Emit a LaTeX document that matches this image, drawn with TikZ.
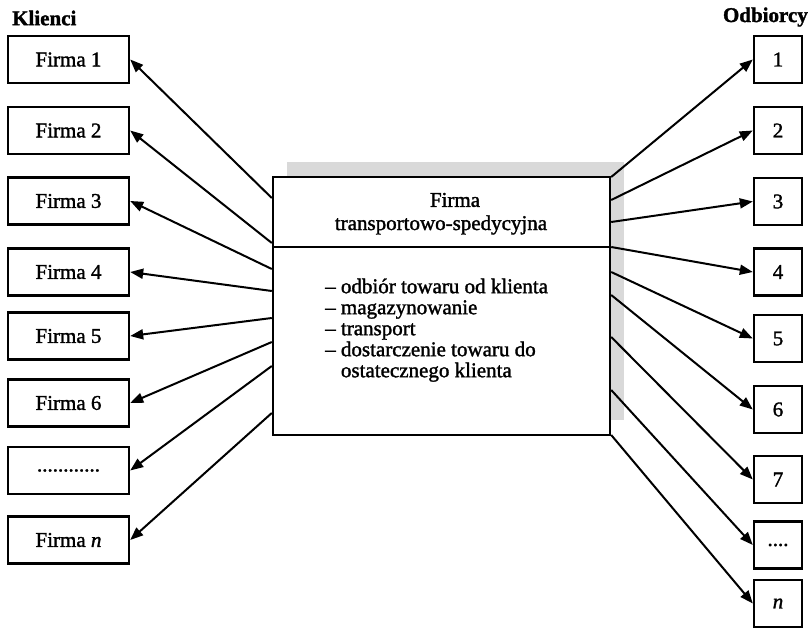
\documentclass[tikz,border=0pt]{standalone}
\usepackage{fontspec}
\setmainfont{Liberation Serif}
\newfontfamily\skan[FakeBold=1.5]{Liberation Serif}
\usetikzlibrary{arrows.meta,shadows}

\begin{document}
\begin{tikzpicture}
[
x=1pt,y=-1pt,
every node/.style={font=\skan\fontsize{21}{21}\selectfont},
naglowek/.style={font=\skan\fontsize{21}{21}\selectfont\bfseries,inner sep=0pt},
klient/.style={draw,line width=2.4pt,minimum width=121pt,minimum height=47pt,inner sep=0pt},
odbiorca/.style={draw,line width=2.4pt,minimum width=48pt,minimum height=47pt,inner sep=0pt},
przeplyw/.style={line width=2pt,-{Triangle[length=13pt,width=10pt]}},
]
\useasboundingbox (0,0) rectangle (811,628);

%Place the nodes
\node[naglowek,anchor=west] (klienci) at (12,18) {Klienci};
\node[naglowek,anchor=east] (odbiorcy) at (808,17) {Odbiorcy};

\node[draw,line width=2.4pt,fill=white,minimum width=337pt,minimum height=258pt,
      drop shadow={shadow xshift=14pt,shadow yshift=15pt,fill=gray!30,opacity=1}] (fts) at (441.5,306) {};
\draw[line width=2.4pt] (fts.west |- 0,247) -- (fts.east |- 0,247);
\node (tytul1) at (455,200) {Firma};
\node (tytul2) at (441,225) {transportowo-spedycyjna};
\node[anchor=west,inner sep=0pt] (zadania) at (325,331) {\begin{tabular}{@{}l@{ }l@{}}
– & odbiór towaru od klienta\\
– & magazynowanie\\
– & transport\\
– & dostarczenie towaru do\\
  & ostatecznego klienta
\end{tabular}};

\node[klient] (k1) at (68.5,59.5) {Firma 1};
\node[klient] (k2) at (68.5,130.5) {Firma 2};
\node[klient] (k3) at (68.5,201) {Firma 3};
\node[klient] (k4) at (68.5,272) {Firma 4};
\node[klient] (k5) at (68.5,336) {Firma 5};
\node[klient] (k6) at (68.5,403) {Firma 6};
\node[klient] (kdots) at (68.5,470.5) {............};
\node[klient] (kn) at (68.5,540) {Firma \textit{n}};

\node[odbiorca] (o1) at (778,59.5) {1};
\node[odbiorca] (o2) at (778,130.5) {2};
\node[odbiorca] (o3) at (778,201.5) {3};
\node[odbiorca] (o4) at (778,272) {4};
\node[odbiorca] (o5) at (778,338.5) {5};
\node[odbiorca] (o6) at (778,409.5) {6};
\node[odbiorca] (o7) at (778,479.5) {7};
\node[odbiorca] (odots) at (778,545) {....};
\node[odbiorca] (on) at (778,603.5) {\textit{n}};

%Draw the connections
\draw[przeplyw] (fts.west |- 0,198) -- (k1.east);
\draw[przeplyw] (fts.west |- 0,243) -- (k2.east);
\draw[przeplyw] (fts.west |- 0,269) -- (k3.east);
\draw[przeplyw] (fts.west |- 0,291) -- (k4.east);
\draw[przeplyw] (fts.west |- 0,318) -- (k5.east);
\draw[przeplyw] (fts.west |- 0,342) -- (k6.east);
\draw[przeplyw] (fts.west |- 0,366) -- (kdots.east);
\draw[przeplyw] (fts.west |- 0,413) -- (kn.east);

\draw[przeplyw] (fts.east |- 0,177) -- (o1.west);
\draw[przeplyw] (fts.east |- 0,200) -- (o2.west);
\draw[przeplyw] (fts.east |- 0,222) -- (o3.west);
\draw[przeplyw] (fts.east |- 0,247) -- (o4.west);
\draw[przeplyw] (fts.east |- 0,272) -- (o5.west);
\draw[przeplyw] (fts.east |- 0,295) -- (o6.west);
\draw[przeplyw] (fts.east |- 0,337) -- (o7.west);
\draw[przeplyw] (fts.east |- 0,390) -- (odots.west);
\draw[przeplyw] (fts.east |- 0,435) -- (on.west);
\end{tikzpicture}
\end{document}
